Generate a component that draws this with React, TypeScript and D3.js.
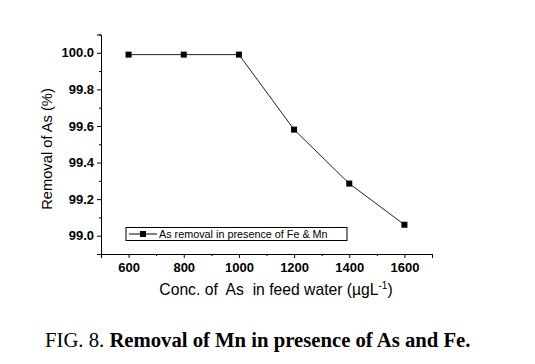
import { useEffect, useRef } from "react";
import * as d3 from "d3";

// concentrations (µg/L) and removal (%)
const conc = [600, 800, 1000, 1200, 1400, 1600];
const removal = [99.99, 99.99, 99.99, 99.58, 99.285, 99.06];
const xTicks = [600, 800, 1000, 1200, 1400, 1600];
const yTicks = [99.0, 99.2, 99.4, 99.6, 99.8, 100.0];
const legendLabel = "As removal in presence of Fe & Mn";

export default function App() {
  const svgRef = useRef<SVGSVGElement>(null);

  useEffect(() => {
    const svg = d3.select(svgRef.current);
    svg.selectAll("*").remove();

    const left = 101, right = 432, top = 34.5, bottom = 254;

    const x = d3.scaleLinear().domain([500, 1700]).range([left, right]);
    const y = d3.scaleLinear().domain([98.9, 100.1]).range([bottom, top]);

    const font = "Arial, 'Liberation Sans', sans-serif";

    // minor ticks
    const xMinor = d3.range(500, 1701, 100).filter(v => !xTicks.includes(v));
    const yMinor = d3.range(98.9, 100.11, 0.1).filter(v => !yTicks.some(t => Math.abs(t - v) < 1e-6));

    const xAxis = svg.append("g")
      .attr("transform", `translate(0,${bottom})`)
      .call(d3.axisBottom(x).tickValues(xTicks).tickSize(4).tickPadding(5).tickFormat(d3.format("d")));
    svg.append("g")
      .attr("transform", `translate(0,${bottom})`)
      .call(d3.axisBottom(x).tickValues(xMinor).tickSize(2).tickFormat(() => ""))
      .select(".domain").remove();

    const yAxis = svg.append("g")
      .attr("transform", `translate(${left},0)`)
      .call(d3.axisLeft(y).tickValues(yTicks).tickSize(4).tickPadding(3).tickFormat(d3.format(".1f")));
    svg.append("g")
      .attr("transform", `translate(${left},0)`)
      .call(d3.axisLeft(y).tickValues(yMinor).tickSize(2).tickFormat(() => ""))
      .select(".domain").remove();

    [xAxis, yAxis].forEach(g => {
      g.selectAll("text")
        .attr("font-family", font)
        .attr("font-size", 13)
        .attr("font-weight", "bold")
        .attr("fill", "#000");
    });
    svg.selectAll(".domain, .tick line").attr("stroke", "#000");

    // data line
    const line = d3.line<number>()
      .x((d, i) => x(conc[i]))
      .y(d => y(d));

    svg.append("path")
      .datum(removal)
      .attr("fill", "none")
      .attr("stroke", "#222")
      .attr("stroke-width", 1)
      .attr("d", line);

    svg.selectAll("rect.pt")
      .data(removal)
      .enter()
      .append("rect")
      .attr("class", "pt")
      .attr("x", (d, i) => x(conc[i]) - 3)
      .attr("y", d => y(d) - 3)
      .attr("width", 6)
      .attr("height", 6)
      .attr("fill", "#000");

    // legend
    const lg = svg.append("g").attr("transform", "translate(126,227.5)");
    lg.append("rect")
      .attr("width", 221)
      .attr("height", 13)
      .attr("fill", "#fff")
      .attr("stroke", "#000")
      .attr("stroke-width", 1);
    lg.append("line")
      .attr("x1", 3).attr("x2", 31)
      .attr("y1", 6.5).attr("y2", 6.5)
      .attr("stroke", "#000");
    lg.append("rect")
      .attr("x", 14).attr("y", 3.5)
      .attr("width", 6).attr("height", 6)
      .attr("fill", "#000");
    lg.append("text")
      .attr("x", 33).attr("y", 10.5)
      .attr("font-family", font)
      .attr("font-size", 10.8)
      .text(legendLabel);

    // axis titles
    svg.append("text")
      .attr("transform", `translate(52,149) rotate(-90)`)
      .attr("text-anchor", "middle")
      .attr("font-family", font)
      .attr("font-size", 14.7)
      .text("Removal of As (%)");

    const xl = svg.append("text")
      .attr("x", 276)
      .attr("y", 295)
      .attr("text-anchor", "middle")
      .attr("font-family", font)
      .attr("font-size", 15.7)
      .attr("xml:space", "preserve")
      .style("white-space", "pre");
    xl.append("tspan").text("Conc. of  As  in feed water (µgL");
    xl.append("tspan").attr("font-size", 10).attr("dy", -6).text("-1");
    xl.append("tspan").attr("dy", 6).text(")");

    // caption
    const cap = svg.append("text")
      .attr("x", 45)
      .attr("y", 347)
      .attr("font-family", "'Liberation Serif', 'Times New Roman', serif")
      .attr("font-size", 20.7)
      .attr("xml:space", "preserve")
      .style("white-space", "pre");
    cap.append("tspan").text("FIG. 8. ");
    cap.append("tspan").attr("font-weight", "bold").text("Removal of Mn in presence of As and Fe.");
  }, []);

  return (
    <svg
      ref={svgRef}
      width={535}
      height={364}
      style={{ position: "absolute", left: 0, top: 0, background: "#fff" }}
    />
  );
}
